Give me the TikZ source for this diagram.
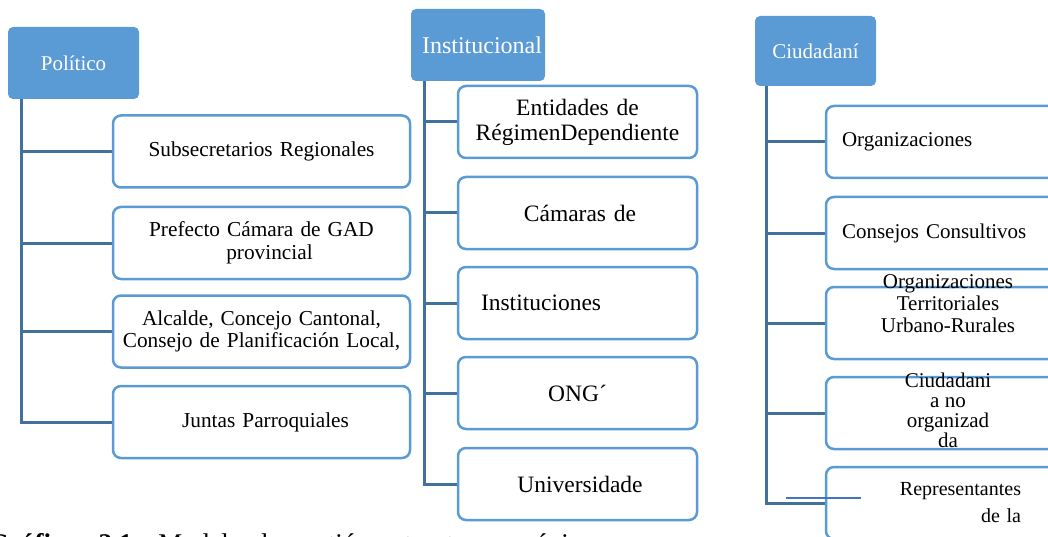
\documentclass[tikz,border=0pt]{standalone}
\usepackage{fontspec}
\setmainfont{Liberation Serif}
\usetikzlibrary{calc,backgrounds}
\definecolor{hdrblue}{HTML}{5B9BD5}
\definecolor{boxblue}{HTML}{5B9BD5}
\definecolor{lineblue}{HTML}{41719C}
\definecolor{strayblue}{HTML}{4472C4}
\begin{document}
\begin{tikzpicture}[x=1pt,y=-1pt,
  hdr/.style={rectangle, rounded corners=5pt, fill=hdrblue, text=white, inner sep=0pt, font=\fontsize{21}{24}\selectfont},
  cbox/.style={rectangle, rounded corners=8pt, draw=boxblue, line width=2.5pt, fill=white, inner sep=0pt, minimum height=72pt},
  pbox/.style={cbox, minimum width=297pt, text width=290pt, align=center, font=\fontsize{21.3}{22.5}\selectfont},
  ibox/.style={cbox, minimum width=239pt, text width=232pt, align=center, font=\fontsize{23.5}{25}\selectfont},
  zbox/.style={cbox, minimum width=244pt, font=\fontsize{21}{22}\selectfont},
  conn/.style={draw=lineblue, line width=3pt},
  txt/.style={inner sep=0pt, align=center},
]
\useasboundingbox (0,0) rectangle (1048,537);
\clip (0,0) rectangle (1048,537);

% headers
\node[hdr, minimum width=131pt, minimum height=72pt] (pol) at (73.5,63) {Político};
\node[hdr, minimum width=134pt, minimum height=72pt, font=\fontsize{24}{26}\selectfont] (ins) at (478,45) {\hspace*{8pt}Institucional};
\node[hdr, minimum width=121pt, minimum height=70pt] (ciu) at (815.5,51) {Ciudadaní};

% political boxes
\node[pbox] (p1) at (261.5,151.5) {Subsecretarios Regionales};
\node[pbox] (p2) at (261.5,243) {Prefecto Cámara de GAD\\\hspace*{16pt}provincial};
\node[pbox] (p3) at (261.5,331.5) {Alcalde, Concejo Cantonal,\\Consejo de Planificación Local,};
\node[pbox] (p4) at (261.5,422) {\hspace*{8pt}Juntas Parroquiales};

% institutional boxes
\node[ibox] (i1) at (577.5,122) {Entidades de\\RégimenDependiente};
\node[ibox] (i2) at (577.5,213) {\hspace*{5pt}Cámaras de};
\node[ibox, text width=193pt, align=left] (i3) at (577.5,303) {Instituciones};
\node[ibox] (i4) at (577.5,393) {ONG´};
\node[ibox] (i5) at (577.5,484) {\hspace*{5pt}Universidade};

% citizen boxes
\node[zbox, text width=212pt, align=left] (c1) at (948,142) {Organizaciones};
\node[zbox, text width=212pt, align=left] (c2) at (948,233) {Consejos Consultivos};
\node[zbox] (c3) at (948,323) {};
\node[zbox] (c4) at (948,413) {};
\node[zbox, text width=146pt, align=right, font=\fontsize{20}{27}\selectfont] (c5) at (948,503) {Representantes\\de la};
\node[txt, font=\fontsize{21}{22}\selectfont] (c3t) at (948,304) {Organizaciones\\Territoriales\\Urbano-Rurales};
\node[txt, font=\fontsize{21}{20}\selectfont] (c4t) at (948,410) {Ciudadani\\a no\\organizad\\da};

% connectors
\begin{scope}[on background layer]
\coordinate (pv) at ($(pol.south west)+(14,0)$);
\draw[conn] (pv) |- (p4.west);
\foreach \b in {p1,p2,p3} \draw[conn] (pv |- \b.west) -- (\b.west);
\coordinate (iv) at ($(ins.south west)+(14,0)$);
\draw[conn] (iv) |- (i5.west);
\foreach \b in {i1,i2,i3,i4} \draw[conn] (iv |- \b.west) -- (\b.west);
\coordinate (cv) at ($(ciu.south west)+(12,0)$);
\draw[conn] (cv) |- (c5.west);
\foreach \b in {c1,c2,c3,c4} \draw[conn] (cv |- \b.west) -- (\b.west);
\end{scope}

% stray thin line
\coordinate (s1) at (786,498);
\coordinate (s2) at (861,498);
\draw[strayblue, line width=1.2pt] (s1) -- (s2);

% caption (cut off at bottom)
\node[anchor=base west, inner sep=0pt, font=\fontsize{27}{30}\selectfont] (cap) at (-12,552) {\textbf{Gráfico}\hspace{22pt}\textbf{2.1:}\hspace{17pt}{\spaceskip=12pt Modelo de gestión estructura orgánica}};
\end{tikzpicture}
\end{document}
